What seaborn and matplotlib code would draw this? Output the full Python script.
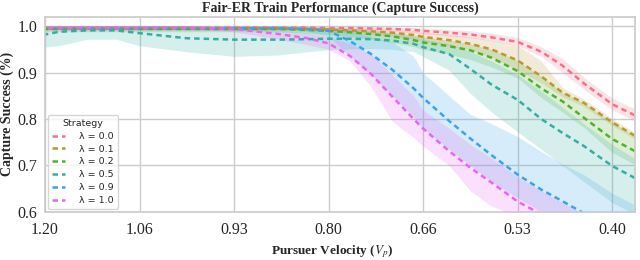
import matplotlib
matplotlib.use("Agg")
import matplotlib.pyplot as plt
import numpy as np
import pandas as pd
import seaborn as sns

# pursuer velocity sample points (x axis runs from 1.20 down to ~0.37)
velocity = [1.20, 1.18, 1.14, 1.10, 1.067, 1.00, 0.933, 0.87, 0.83, 0.80, 0.77, 0.74,
            0.71, 0.68, 0.667, 0.63, 0.60, 0.57, 0.533, 0.50, 0.47, 0.44, 0.40, 0.368]

strategies = ["λ = 0.0", "λ = 0.1", "λ = 0.2", "λ = 0.5", "λ = 0.9", "λ = 1.0"]

# mean capture success per strategy
mean_l00 = [0.997, 0.997, 0.997, 0.997, 0.997, 0.997, 0.997, 0.997, 0.997, 0.996, 0.996, 0.995,
            0.994, 0.992, 0.990, 0.986, 0.982, 0.976, 0.966, 0.945, 0.915, 0.877, 0.832, 0.808]
mean_l01 = [0.995, 0.995, 0.995, 0.995, 0.995, 0.995, 0.995, 0.995, 0.994, 0.993, 0.991, 0.989,
            0.986, 0.981, 0.977, 0.970, 0.962, 0.950, 0.926, 0.892, 0.857, 0.835, 0.793, 0.764]
mean_l02 = [0.994, 0.994, 0.994, 0.994, 0.994, 0.994, 0.994, 0.994, 0.992, 0.990, 0.987, 0.983,
            0.978, 0.970, 0.965, 0.957, 0.948, 0.932, 0.903, 0.866, 0.838, 0.803, 0.757, 0.731]
mean_l05 = [0.982, 0.988, 0.991, 0.991, 0.985, 0.974, 0.971, 0.971, 0.972, 0.973, 0.973, 0.972,
            0.969, 0.962, 0.955, 0.940, 0.908, 0.874, 0.841, 0.800, 0.770, 0.742, 0.699, 0.673]
mean_l09 = [0.996, 0.996, 0.996, 0.996, 0.996, 0.996, 0.996, 0.996, 0.994, 0.990, 0.968, 0.940,
            0.906, 0.866, 0.846, 0.796, 0.758, 0.722, 0.680, 0.648, 0.623, 0.597, 0.565, 0.540]
mean_l10 = [0.997, 0.997, 0.997, 0.997, 0.997, 0.997, 0.994, 0.983, 0.974, 0.963, 0.936, 0.897,
            0.848, 0.800, 0.780, 0.731, 0.695, 0.663, 0.622, 0.595, 0.570, 0.545, 0.510, 0.480]

# band bounds per strategy
low_l00 = [0.993, 0.993, 0.993, 0.993, 0.993, 0.993, 0.993, 0.993, 0.993, 0.992, 0.991, 0.990,
           0.988, 0.986, 0.984, 0.979, 0.975, 0.969, 0.958, 0.935, 0.900, 0.864, 0.820, 0.795]
high_l00 = [1.000, 1.000, 1.000, 1.000, 1.000, 1.000, 1.000, 1.000, 1.000, 0.999, 0.999, 0.999,
            0.998, 0.997, 0.996, 0.993, 0.990, 0.985, 0.975, 0.956, 0.930, 0.890, 0.845, 0.822]
low_l01 = [0.991, 0.991, 0.991, 0.991, 0.991, 0.991, 0.991, 0.991, 0.990, 0.988, 0.985, 0.982,
           0.978, 0.972, 0.967, 0.958, 0.948, 0.933, 0.905, 0.878, 0.848, 0.827, 0.786, 0.757]
high_l01 = [0.999, 0.999, 0.999, 0.999, 0.999, 0.999, 0.999, 0.999, 0.998, 0.998, 0.997, 0.996,
            0.994, 0.990, 0.987, 0.982, 0.977, 0.970, 0.958, 0.925, 0.868, 0.843, 0.801, 0.771]
low_l02 = [0.988, 0.988, 0.988, 0.988, 0.988, 0.988, 0.988, 0.988, 0.985, 0.982, 0.978, 0.972,
           0.965, 0.956, 0.950, 0.940, 0.928, 0.912, 0.888, 0.846, 0.815, 0.782, 0.728, 0.702]
high_l02 = [0.998, 0.998, 0.998, 0.998, 0.998, 0.998, 0.998, 0.998, 0.997, 0.996, 0.994, 0.991,
            0.987, 0.981, 0.977, 0.970, 0.962, 0.950, 0.926, 0.892, 0.857, 0.835, 0.793, 0.764]
low_l05 = [0.955, 0.958, 0.972, 0.972, 0.958, 0.945, 0.935, 0.938, 0.945, 0.949, 0.951, 0.952,
           0.950, 0.945, 0.935, 0.905, 0.855, 0.815, 0.772, 0.735, 0.700, 0.665, 0.620, 0.595]
high_l05 = [0.999, 0.999, 0.999, 0.999, 0.999, 0.999, 0.998, 0.997, 0.997, 0.996, 0.994, 0.990,
            0.985, 0.978, 0.972, 0.962, 0.945, 0.925, 0.895, 0.860, 0.825, 0.790, 0.745, 0.715]
low_l09 = [0.993, 0.993, 0.993, 0.993, 0.993, 0.993, 0.993, 0.993, 0.988, 0.978, 0.935, 0.895,
           0.850, 0.805, 0.780, 0.735, 0.700, 0.665, 0.630, 0.600, 0.570, 0.545, 0.510, 0.490]
high_l09 = [0.999, 0.999, 0.999, 0.999, 0.999, 0.999, 0.999, 0.999, 0.998, 0.997, 0.990, 0.978,
            0.966, 0.935, 0.900, 0.850, 0.810, 0.790, 0.762, 0.730, 0.703, 0.680, 0.640, 0.615]
low_l10 = [0.994, 0.994, 0.994, 0.994, 0.994, 0.994, 0.988, 0.972, 0.960, 0.950, 0.925, 0.870,
           0.795, 0.760, 0.742, 0.700, 0.645, 0.612, 0.590, 0.560, 0.535, 0.510, 0.475, 0.450]
high_l10 = [0.999, 0.999, 0.999, 0.999, 0.999, 0.999, 0.998, 0.992, 0.986, 0.978, 0.962, 0.940,
            0.895, 0.850, 0.820, 0.780, 0.745, 0.715, 0.675, 0.645, 0.620, 0.595, 0.565, 0.540]

tick_values = np.linspace(1.2, 0.4, 7)
tick_labels = ["1.20", "1.06", "0.93", "0.80", "0.66", "0.53", "0.40"]

means = [mean_l00, mean_l01, mean_l02, mean_l05, mean_l09, mean_l10]
lows = [low_l00, low_l01, low_l02, low_l05, low_l09, low_l10]
highs = [high_l00, high_l01, high_l02, high_l05, high_l09, high_l10]

sns.set_theme(style="whitegrid")
plt.rcParams["font.family"] = ["Liberation Serif", "DejaVu Serif"]
plt.rcParams["mathtext.fontset"] = "stix"

palette = sns.color_palette("husl", len(strategies))

fig = plt.figure(figsize=(6.4, 2.6), dpi=100)
ax = fig.add_axes([0.0703, 0.185, 0.9217, 0.75])

for name, m, lo, hi, color in zip(strategies, means, lows, highs, palette):
    df = pd.DataFrame({"Pursuer Velocity": velocity, "Capture Success": m})
    sns.lineplot(data=df, x="Pursuer Velocity", y="Capture Success", ax=ax,
                 color=color, linestyle=(0, (2.2, 1.6)), linewidth=1.8, label=name)
    ax.fill_between(velocity, lo, hi, color=color, alpha=0.2, linewidth=0)

ax.set_xlim(1.2, 0.368)
ax.set_ylim(0.6, 1.02)
ax.set_xticks(tick_values)
ax.set_xticklabels(tick_labels)
ax.set_yticks([0.6, 0.7, 0.8, 0.9, 1.0])
ax.tick_params(axis="both", labelsize=11.5, length=0)
ax.tick_params(axis="x", pad=7)
ax.tick_params(axis="y", pad=5.5)

ax.set_title("Fair-ER Train Performance (Capture Success)", fontsize=10, fontweight="bold", pad=4)
ax.set_xlabel("Pursuer Velocity ($V_p$)", fontsize=9.5, fontweight="bold")
ax.set_ylabel("Capture Success (%)", fontsize=10, fontweight="bold")
ax.xaxis.set_label_coords(0.486, -0.16)
ax.yaxis.set_label_coords(-0.053, 0.5)

leg = ax.legend(title="Strategy", loc="lower left", prop={"family": "DejaVu Sans", "size": 6.8},
                title_fontproperties={"family": "DejaVu Sans", "size": 6.8},
                handlelength=1.4, handletextpad=1.5, borderaxespad=0.35, labelspacing=0.4)
leg.get_frame().set_edgecolor("#cccccc")

fig.savefig("out.png", dpi=100)
